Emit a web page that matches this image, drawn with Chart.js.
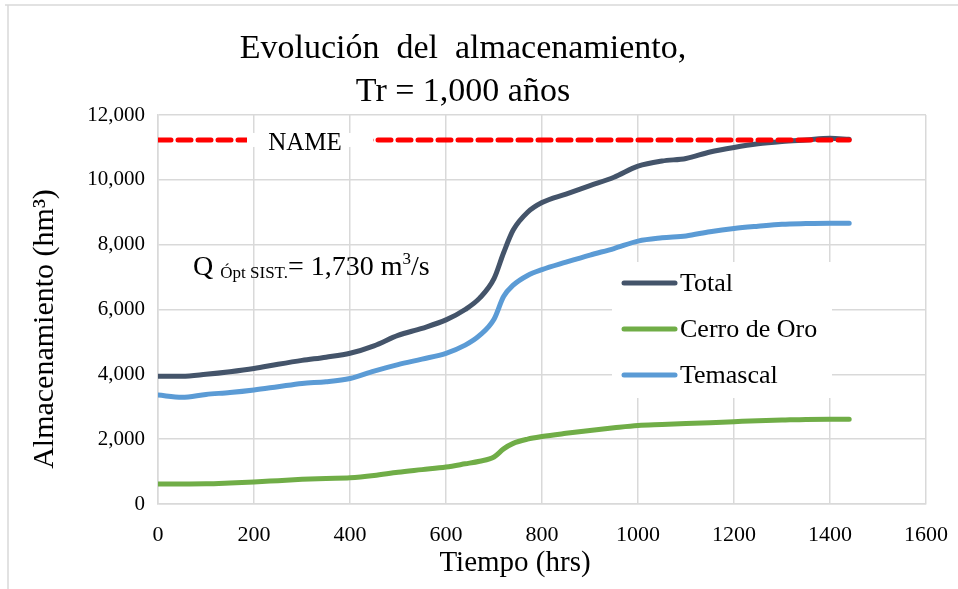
<!DOCTYPE html>
<html>
<head>
<meta charset="utf-8">
<script src="https://cdn.jsdelivr.net/npm/chart.js@4.4.1/dist/chart.umd.min.js"></script>
<style>
  html, body { margin: 0; padding: 0; background: #fff; }
  #wrap { width: 958px; height: 589px; position: relative; }
</style>
</head>
<body>
<div id="wrap"><canvas id="chart"></canvas></div>
<script>
// ── Data ──────────────────────────────────────────────────
const hours      = [0, 50, 100, 150, 200, 250, 300, 350, 400, 450, 500, 550, 600, 640, 670, 700, 720, 740, 770, 800, 850, 900, 950, 1000, 1050, 1100, 1150, 1200, 1250, 1300, 1350, 1400, 1440];
const total      = [3940, 3940, 4000, 4080, 4180, 4310, 4430, 4530, 4650, 4880, 5200, 5420, 5680, 6000, 6350, 6950, 7750, 8450, 9000, 9300, 9560, 9820, 10080, 10420, 10580, 10660, 10860, 11000, 11110, 11180, 11230, 11280, 11250];
const cerroDeOro = [620, 620, 625, 650, 680, 720, 760, 790, 810, 880, 980, 1060, 1140, 1240, 1320, 1450, 1700, 1870, 2000, 2080, 2180, 2270, 2350, 2420, 2450, 2480, 2510, 2540, 2570, 2590, 2610, 2615, 2615];
const temascal   = [3360, 3290, 3380, 3440, 3520, 3620, 3720, 3770, 3870, 4100, 4300, 4470, 4650, 4900, 5200, 5700, 6400, 6750, 7050, 7230, 7460, 7680, 7880, 8110, 8210, 8270, 8400, 8500, 8570, 8630, 8650, 8660, 8660];

const nameHours = [0, 1440];
const nameLevel = [11230, 11230];

const xTicks = [0, 200, 400, 600, 800, 1000, 1200, 1400, 1600];
const yTicks = [0, 2000, 4000, 6000, 8000, 10000, 12000];

const seriesNames  = ['Total', 'Cerro de Oro', 'Temascal'];
const seriesColors = ['#44546A', '#70AD47', '#5B9BD5'];

// ── Helpers ───────────────────────────────────────────────
const SERIF = "'Liberation Serif', 'Times New Roman', serif";
const GRID  = '#D9D9D9';

function toPoints(xs, ys) {
    return xs.map((x, i) => ({ x: x, y: ys[i] }));
}

// ── Extra drawing: frame, axis titles, NAME label, Q note, legend ──
const decorPlugin = {
    id: 'decor',
    beforeDraw(chart) {
        const ctx = chart.ctx;
        ctx.save();
        ctx.strokeStyle = GRID;
        ctx.lineWidth = 1.5;
        ctx.beginPath();
        ctx.moveTo(5, 5); ctx.lineTo(958, 5);
        ctx.moveTo(8, 5); ctx.lineTo(8, 589);
        ctx.stroke();

        // axis titles (Excel puts them off the plot centre)
        ctx.fillStyle = '#000';
        ctx.textAlign = 'center';
        ctx.textBaseline = 'middle';
        ctx.font = '29px ' + SERIF;
        ctx.fillText('Tiempo (hrs)', 515, 563);
        ctx.translate(45, 329);
        ctx.rotate(-Math.PI / 2);
        ctx.font = '30px ' + SERIF;
        ctx.fillText('Almacenamiento (hm³)', 0, 0);
        ctx.restore();
    },
    afterDatasetsDraw(chart) {
        const ctx = chart.ctx;
        const xs = chart.scales.x, ys = chart.scales.y;
        ctx.save();

        // NAME label sitting on the red line
        const ny = ys.getPixelForValue(nameLevel[0]);
        ctx.fillStyle = '#fff';
        ctx.fillRect(247, ny - 7, 126, 14);
        ctx.fillStyle = '#000';
        ctx.font = '25px ' + SERIF;
        ctx.textAlign = 'center';
        ctx.textBaseline = 'middle';
        ctx.fillText('NAME', 305, ny + 3);

        // Q Ópt SIST. note
        let qx = xs.getPixelForValue(73);
        const qy = ys.getPixelForValue(7060);
        ctx.textAlign = 'left';
        ctx.textBaseline = 'alphabetic';
        ctx.font = '28px ' + SERIF;
        ctx.fillText('Q', qx, qy);
        qx += ctx.measureText('Q ').width;
        ctx.font = '17px ' + SERIF;
        ctx.fillText('Ópt SIST.', qx, qy + 3);
        qx += ctx.measureText('Ópt SIST.').width;
        ctx.font = '28px ' + SERIF;
        ctx.fillText('= 1,730 m', qx, qy);
        qx += ctx.measureText('= 1,730 m').width;
        ctx.font = '17px ' + SERIF;
        ctx.fillText('3', qx, qy - 11);
        qx += ctx.measureText('3').width;
        ctx.font = '28px ' + SERIF;
        ctx.fillText('/s', qx, qy);

        // Legend box inside the plot
        ctx.fillStyle = '#fff';
        ctx.fillRect(612, 262, 220, 136);
        ctx.font = '26px ' + SERIF;
        ctx.textBaseline = 'middle';
        ctx.lineCap = 'round';
        ctx.lineWidth = 5;
        seriesNames.forEach((name, i) => {
            const y = 283 + i * 46;
            ctx.strokeStyle = seriesColors[i];
            ctx.beginPath();
            ctx.moveTo(624, y);
            ctx.lineTo(675, y);
            ctx.stroke();
            ctx.fillStyle = '#000';
            ctx.fillText(name, 680, y + 1);
        });
        ctx.restore();
    }
};

// ── Chart ─────────────────────────────────────────────────
const lineStyle = {
    borderWidth: 5,
    pointRadius: 0,
    tension: 0.3,
    cubicInterpolationMode: 'monotone',
    borderCapStyle: 'round',
    borderJoinStyle: 'round',
    fill: false,
    order: 1
};

new Chart(document.getElementById('chart'), {
    type: 'line',
    data: {
        datasets: [
            Object.assign({ label: 'Total', data: toPoints(hours, total), borderColor: seriesColors[0] }, lineStyle),
            Object.assign({ label: 'Cerro de Oro', data: toPoints(hours, cerroDeOro), borderColor: seriesColors[1] }, lineStyle),
            Object.assign({ label: 'Temascal', data: toPoints(hours, temascal), borderColor: seriesColors[2] }, lineStyle),
            {
                label: 'NAME',
                data: toPoints(nameHours, nameLevel),
                borderColor: '#FF0000',
                borderWidth: 5,
                borderDash: [13, 7],
                borderCapStyle: 'round',
                pointRadius: 0,
                fill: false,
                order: 0
            }
        ]
    },
    options: {
        responsive: true,
        maintainAspectRatio: false,
        animation: false,
        layout: { padding: { top: 0, right: 32, left: 0, bottom: 0 } },
        plugins: {
            legend: { display: false },
            tooltip: { enabled: false },
            title: {
                display: true,
                text: ['Evolución  del  almacenamiento,', 'Tr = 1,000 años'],
                color: '#000',
                font: { family: SERIF, size: 34, weight: 'normal', lineHeight: 1.25 },
                padding: { top: 28, bottom: 2 }
            }
        },
        scales: {
            x: {
                type: 'linear',
                min: 0,
                max: 1600,
                afterBuildTicks: s => { s.ticks = xTicks.map(v => ({ value: v })); },
                afterFit: s => {
                    s.height = 85;
                    s.paddingLeft = 0;
                    s.paddingRight = 0;
                },
                grid: { color: GRID, lineWidth: 1.5, drawTicks: false },
                border: { color: GRID, width: 1.5 },
                ticks: {
                    color: '#000',
                    padding: 18,
                    font: { family: SERIF, size: 22 },
                    callback: v => String(v)
                },
                title: { display: false }
            },
            y: {
                min: 0,
                max: 12000,
                afterBuildTicks: s => { s.ticks = yTicks.map(v => ({ value: v })); },
                afterFit: s => { s.width = 158; },
                grid: { color: GRID, lineWidth: 1.5, drawTicks: false },
                border: { color: GRID, width: 1.5 },
                ticks: {
                    color: '#000',
                    padding: 13,
                    font: { family: SERIF, size: 21 },
                    callback: v => v.toLocaleString('en-US')
                },
                title: { display: false }
            }
        }
    },
    plugins: [decorPlugin]
});
</script>
</body>
</html>
